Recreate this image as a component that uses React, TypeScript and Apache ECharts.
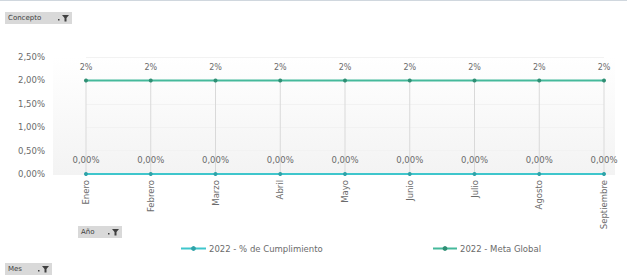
import React, { useEffect, useRef } from "react";
import * as echarts from "echarts";

const months = ["Enero", "Febrero", "Marzo", "Abril", "Mayo", "Junio", "Julio", "Agosto", "Septiembre"];
const cumplimiento = [0, 0, 0, 0, 0, 0, 0, 0, 0];
const metaGlobal = [2, 2, 2, 2, 2, 2, 2, 2, 2];
const seriesNames = ["2022 - % de Cumplimiento", "2022 - Meta Global"];
const yMin = 0;
const yMax = 2.5;
const yInterval = 0.5;

const FONT = "DejaVu Sans";
const TXT = "#6b6b6b";

function filterButton(x: number, y: number, w: number, label: string) {
  return {
    type: "group",
    x,
    y,
    children: [
      { type: "rect", shape: { x: 0, y: 0, width: w, height: 12 }, style: { fill: "#d9d9d9" } },
      { type: "text", x: 3, y: 2.5, style: { text: label, fill: "#404040", font: `7px ${FONT}` } },
      {
        type: "polygon",
        shape: { points: [[w - 10, 3], [w - 3, 3], [w - 5.5, 6], [w - 5.5, 9.5], [w - 7.5, 9.5], [w - 7.5, 6]] },
        style: { fill: "#404040" },
      },
      { type: "rect", shape: { x: w - 14, y: 7, width: 1.5, height: 1.5 }, style: { fill: "#404040" } },
    ],
  };
}

export default function App() {
  const ref = useRef<HTMLDivElement>(null);
  useEffect(() => {
    if (!ref.current) return;
    const chart = echarts.init(ref.current, undefined, { renderer: "svg" });
    chart.setOption({
      animation: false,
      backgroundColor: "#ffffff",
      textStyle: { fontFamily: FONT },
      grid: { left: 86, right: 23, top: 57, bottom: 103 },
      legend: [
        {
          data: [seriesNames[0]],
          left: 180,
          top: 244,
          padding: 0,
          itemWidth: 25,
          itemHeight: 6,
          textStyle: { fontSize: 8.5, color: TXT, fontFamily: FONT, padding: [0, 0, 0, -2] },
        },
        {
          data: [seriesNames[1]],
          left: 432,
          top: 244,
          padding: 0,
          itemWidth: 24,
          itemHeight: 6,
          textStyle: { fontSize: 8.5, color: TXT, fontFamily: FONT, padding: [0, 0, 0, -2] },
        },
      ],
      graphic: [
        { type: "line", shape: { x1: 0, y1: 0.5, x2: 627, y2: 0.5 }, style: { stroke: "#d0d7de", lineWidth: 1 } },
        {
          type: "rect",
          z: -10,
          shape: { x: 53, y: 57, width: 562, height: 118 },
          style: {
            fill: new echarts.graphic.LinearGradient(0, 0, 0, 1, [
              { offset: 0, color: "#ffffff" },
              { offset: 1, color: "#f3f3f3" },
            ]),
          },
        },
        filterButton(5, 12, 67, "Concepto"),
        filterButton(78, 226, 44, "Año"),
        filterButton(5, 263, 47, "Mes"),
      ],
      xAxis: {
        type: "category",
        data: months,
        boundaryGap: false,
        axisLine: { show: false },
        axisTick: { show: false },
        axisLabel: { rotate: 90, fontSize: 8.5, color: TXT, margin: 6, fontFamily: FONT },
        splitLine: { show: false },
      },
      yAxis: {
        type: "value",
        min: yMin,
        max: yMax,
        interval: yInterval,
        axisLine: { show: false },
        axisTick: { show: false },
        axisLabel: {
          fontSize: 8.5,
          color: TXT,
          margin: 41,
          fontFamily: FONT,
          formatter: (v: number) => v.toFixed(2).replace(".", ",") + "%",
        },
        splitLine: { show: true, lineStyle: { color: "#f2f2f2", width: 1 } },
      },
      series: [
        {
          name: "drop",
          type: "bar",
          data: metaGlobal,
          barWidth: 1,
          silent: true,
          itemStyle: { color: "#d9d9d9" },
          z: 1,
        },
        {
          name: seriesNames[0],
          type: "line",
          data: cumplimiento,
          color: "#3fc6cc",
          symbol: "circle",
          symbolSize: 4,
          lineStyle: { width: 2, color: "#3fc6cc" },
          itemStyle: { color: "#2fa3a8" },
          label: {
            show: true,
            position: "top",
            distance: 8,
            fontSize: 8.5,
            color: TXT,
            fontFamily: FONT,
            formatter: (p: any) => Number(p.value).toFixed(2).replace(".", ",") + "%",
          },
          z: 3,
        },
        {
          name: seriesNames[1],
          type: "line",
          data: metaGlobal,
          color: "#45b99b",
          symbol: "circle",
          symbolSize: 4,
          lineStyle: { width: 2, color: "#45b99b" },
          itemStyle: { color: "#2f8f74" },
          label: {
            show: true,
            position: "top",
            distance: 7,
            fontSize: 8,
            color: TXT,
            fontFamily: FONT,
            formatter: (p: any) => Math.round(Number(p.value)) + "%",
          },
          z: 3,
        },
      ],
    });
    return () => chart.dispose();
  }, []);
  return <div ref={ref} style={{ position: "fixed", left: 0, top: 0, width: 627, height: 277 }} />;
}
